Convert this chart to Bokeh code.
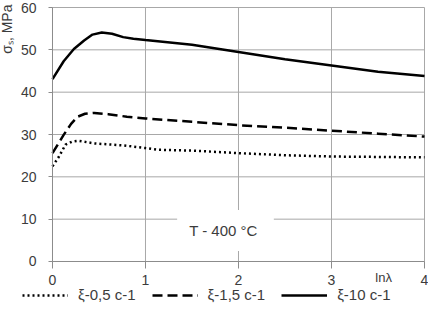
from bokeh.plotting import figure
from bokeh.models import Label, Legend, LegendItem, FixedTicker, Range1d
from bokeh.embed import file_html
from bokeh.resources import INLINE
from math import pi

# ---- data ----
x_10 = [0, 0.12, 0.23, 0.34, 0.43, 0.53, 0.64, 0.76, 0.87, 1.0, 1.5, 2.0, 2.5, 3.0, 3.5, 4.0]
y_10 = [43.1, 47.3, 50.2, 52.2, 53.6, 54.1, 53.8, 53.0, 52.6, 52.3, 51.2, 49.5, 47.8, 46.3, 44.8, 43.8]

x_15 = [0, 0.12, 0.2, 0.27, 0.35, 0.45, 0.6, 0.8, 1.0, 1.5, 2.0, 2.5, 3.0, 3.5, 4.0]
y_15 = [25.6, 29.9, 32.5, 34.2, 34.9, 35.1, 34.8, 34.2, 33.8, 33.0, 32.2, 31.6, 30.9, 30.2, 29.5]

x_05 = [0, 0.07, 0.14, 0.21, 0.28, 0.45, 0.77, 1.0, 1.13, 1.5, 2.0, 2.5, 3.0, 3.5, 4.0]
y_05 = [22.5, 24.8, 27.6, 28.3, 28.5, 27.9, 27.4, 26.8, 26.4, 26.2, 25.6, 25.1, 24.8, 24.7, 24.6]

series_labels = ["ξ-0,5 c-1", "ξ-1,5 c-1", "ξ-10 c-1"]
x_ticks = [0, 1, 2, 3, 4]
y_ticks = [0, 10, 20, 30, 40, 50, 60]
y_title = "σₛ, MPa"
x_title = "lnλ"
note = "T -  400 °C"

FONT = "Liberation Sans"
TXT = "#3c3c3c"
GRID = "#a8a8a8"
AX = "#8c8c8c"

x_lo, x_hi = x_ticks[0], x_ticks[-1]
y_lo, y_hi = y_ticks[0], y_ticks[-1]

# frame covers the whole canvas; axes are pinned at the data origin
p = figure(width=428, height=310, output_backend="svg", toolbar_location=None,
           x_range=Range1d(-0.5591, 4.043), y_range=Range1d(-11.575, 61.654),
           min_border=0)
p.outline_line_color = None
p.background_fill_color = "white"
p.border_fill_color = "white"
p.grid.visible = False

# grid lines (limited to the data area)
p.segment(x0=x_ticks, y0=[y_lo] * len(x_ticks), x1=x_ticks, y1=[y_hi] * len(x_ticks),
          line_color=GRID, line_width=1)
p.segment(x0=[x_lo] * len(y_ticks), y0=y_ticks, x1=[x_hi] * len(y_ticks), y1=y_ticks,
          line_color=GRID, line_width=1)

r05 = p.line(x_05, y_05, line_color="black", line_width=2.5, line_dash="2 3")
r15 = p.line(x_15, y_15, line_color="black", line_width=2.5, line_dash="10 5")
r10 = p.line(x_10, y_10, line_color="black", line_width=2.5)

p.xaxis.ticker = FixedTicker(ticks=x_ticks)
p.yaxis.ticker = FixedTicker(ticks=y_ticks)
p.xaxis.fixed_location = y_lo
p.yaxis.fixed_location = x_lo
p.xaxis.bounds = (x_lo, x_hi)
p.yaxis.bounds = (y_lo, y_hi)

for ax in (p.xaxis[0], p.yaxis[0]):
    ax.axis_line_color = AX
    ax.major_tick_line_color = AX
    ax.minor_tick_line_color = None
    ax.major_tick_in = 0
    ax.major_label_text_font = FONT
    ax.major_label_text_font_size = "14px"
    ax.major_label_text_color = TXT
p.xaxis.major_tick_out = 7
p.xaxis.major_label_standoff = 7
p.yaxis.major_tick_out = 4
p.yaxis.major_label_standoff = 12

# text annotation with white background
p.add_layout(Label(x=1.86, y=7.3, text=note, text_font=FONT, text_font_size="15px",
                   text_color=TXT, text_align="center", text_baseline="middle",
                   background_fill_color="white", padding=12))

# axis titles
p.add_layout(Label(x=3.56, y=-3.75, text=x_title, text_font=FONT, text_font_size="13px",
                   text_color=TXT, text_align="center", text_baseline="middle"))
p.add_layout(Label(x=-0.49, y=60.7, text=y_title, text_font=FONT, text_font_size="14px",
                   text_color=TXT, text_align="right", text_baseline="middle", angle=pi / 2))

legend = Legend(items=[LegendItem(label=series_labels[0], renderers=[r05]),
                       LegendItem(label=series_labels[1], renderers=[r15]),
                       LegendItem(label=series_labels[2], renderers=[r10])],
                orientation="horizontal", location=(22, 7),
                glyph_width=46, glyph_height=14, label_standoff=10, spacing=16,
                padding=0, margin=0, border_line_color=None, background_fill_alpha=0,
                label_text_font=FONT, label_text_font_size="15px", label_text_color=TXT)
p.add_layout(legend)

open("out.html", "w").write(file_html(p, INLINE))
